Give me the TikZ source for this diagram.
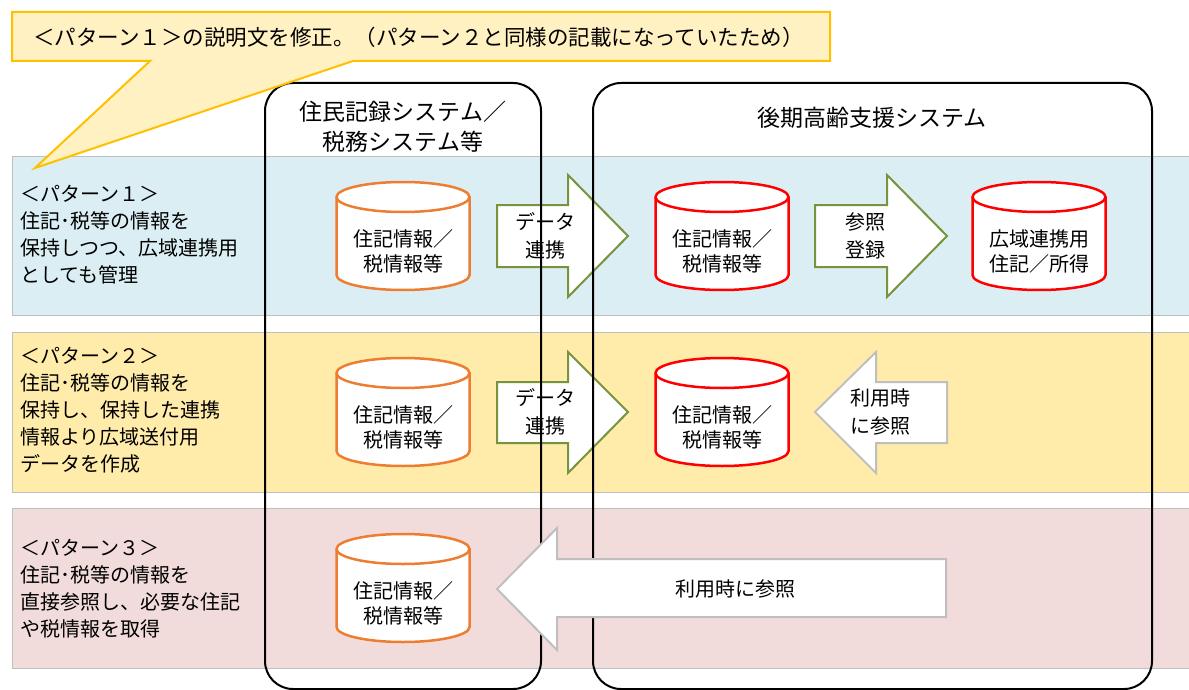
\documentclass[tikz,border=0pt]{standalone}
\usepackage{fontspec}
\setmainfont{Noto Sans CJK JP}
\definecolor{bandblue}{HTML}{DAEEF3}
\definecolor{bandyellow}{HTML}{FFEBAA}
\definecolor{bandpink}{HTML}{F2DCDB}
\definecolor{noteyellow}{HTML}{FFF1C2}
\definecolor{noteline}{HTML}{FFC000}
\definecolor{dborange}{HTML}{ED7D31}
\definecolor{arrowgreen}{HTML}{77933C}
\definecolor{arrowgray}{HTML}{BFBFBF}

\begin{document}
\begin{tikzpicture}[x=1pt,y=-1pt,
	band/.style={draw=arrowgray,line width=1pt},
	sysbox/.style={draw=black,line width=2pt,rounded corners=28pt},
	dbline/.style={line width=2.5pt,fill=white},
	dbtext/.style={align=center,inner sep=0pt,font=\fontsize{20}{25}\selectfont},
	bigarrow/.style={fill=white,line width=2pt,line join=miter},
	patterntext/.style={align=left,anchor=west,inner sep=0pt,font=\fontsize{20}{27}\selectfont},
	arrowtext/.style={align=center,inner sep=0pt,font=\fontsize{20}{28}\selectfont},
	titletext/.style={align=center,inner sep=0pt,font=\fontsize{23}{30}\selectfont}]
	\useasboundingbox (0,0) rectangle (1189,690);

	\draw[band,fill=bandblue] (12,157) rectangle (1195,315);
	\draw[band,fill=bandyellow] (12,332) rectangle (1195,492);
	\draw[band,fill=bandpink] (12,508) rectangle (1195,668);

	\node[patterntext] (pat1) at (20,235) {＜パターン１＞\\住記･税等の情報を\\保持しつつ、広域連携用\\としても管理};
	\node[patterntext] (pat2) at (20,410) {＜パターン２＞\\住記･税等の情報を\\保持し、保持した連携\\情報より広域送付用\\データを作成};
	\node[patterntext] (pat3) at (20,589) {＜パターン３＞\\住記･税等の情報を\\直接参照し、必要な住記\\や税情報を取得};

	\draw[bigarrow,draw=arrowgreen] (497,205) -- (568,205) -- (568,175) -- (628,236) -- (568,297) -- (568,267) -- (497,267) -- cycle;
	\node[arrowtext] (link1) at (545,236) {データ\\連携};
	\draw[bigarrow,draw=arrowgreen] (497,382) -- (568,382) -- (568,352) -- (628,412) -- (568,473) -- (568,443) -- (497,443) -- cycle;
	\node[arrowtext] (link2) at (545,412) {データ\\連携};
	\draw[bigarrow,draw=arrowgreen] (815,205) -- (887,205) -- (887,175) -- (947,236) -- (887,297) -- (887,267) -- (815,267) -- cycle;
	\node[arrowtext] (regist) at (865,236) {参照\\登録};
	\draw[bigarrow,draw=arrowgray] (947,382) -- (876,382) -- (876,352) -- (815,412) -- (876,473) -- (876,443) -- (947,443) -- cycle;
	\node[arrowtext] (refer2) at (880,412) {利用時\\に参照};

	\draw[sysbox] (265,83) rectangle (541,689);
	\draw[sysbox] (593,83) rectangle (1152,689);
	\node[titletext] (jumin) at (403,127) {住民記録システム／\\税務システム等};
	\node[titletext] (kouki) at (872,118) {後期高齢支援システム};

	\draw[bigarrow,draw=arrowgray] (946,559) -- (557,559) -- (557,528) -- (497,589) -- (557,650) -- (557,617) -- (946,617) -- cycle;
	\node[arrowtext] (refer3) at (735,589) {利用時に参照};

	\foreach \cx/\cy/\col/\dbname/\dblabel in {
		403/236/dborange/src1/{住記情報／\\税情報等},
		403/412/dborange/src2/{住記情報／\\税情報等},
		403/588/dborange/src3/{住記情報／\\税情報等},
		722/236/red/dst1/{住記情報／\\税情報等},
		722/412/red/dst2/{住記情報／\\税情報等},
		1039/236/red/wide/{広域連携用\\住記／所得}}{
		\draw[dbline,draw=\col] (\cx-66.5,\cy-39) -- (\cx-66.5,\cy+39)
			arc[start angle=180,end angle=360,x radius=66.5pt,y radius=15pt]
			-- (\cx+66.5,\cy-39)
			arc[start angle=0,end angle=180,x radius=66.5pt,y radius=15pt] -- cycle;
		\draw[dbline,draw=\col] (\cx-66.5,\cy-39)
			arc[start angle=180,end angle=360,x radius=66.5pt,y radius=15pt];
		\node[dbtext] (\dbname) at (\cx,\cy+15) {\dblabel};
	}

	\draw[fill=noteyellow,draw=noteline,line width=2pt] (12,12) -- (830,12) -- (830,61) -- (353,61) -- (35,168) -- (150,61) -- (12,61) -- cycle;
	\node[anchor=west,inner sep=0pt,font=\fontsize{21.5}{25}\selectfont] (note) at (33,37) {＜パターン１＞の説明文を修正。（パターン２と同様の記載になっていたため）};
\end{tikzpicture}
\end{document}
